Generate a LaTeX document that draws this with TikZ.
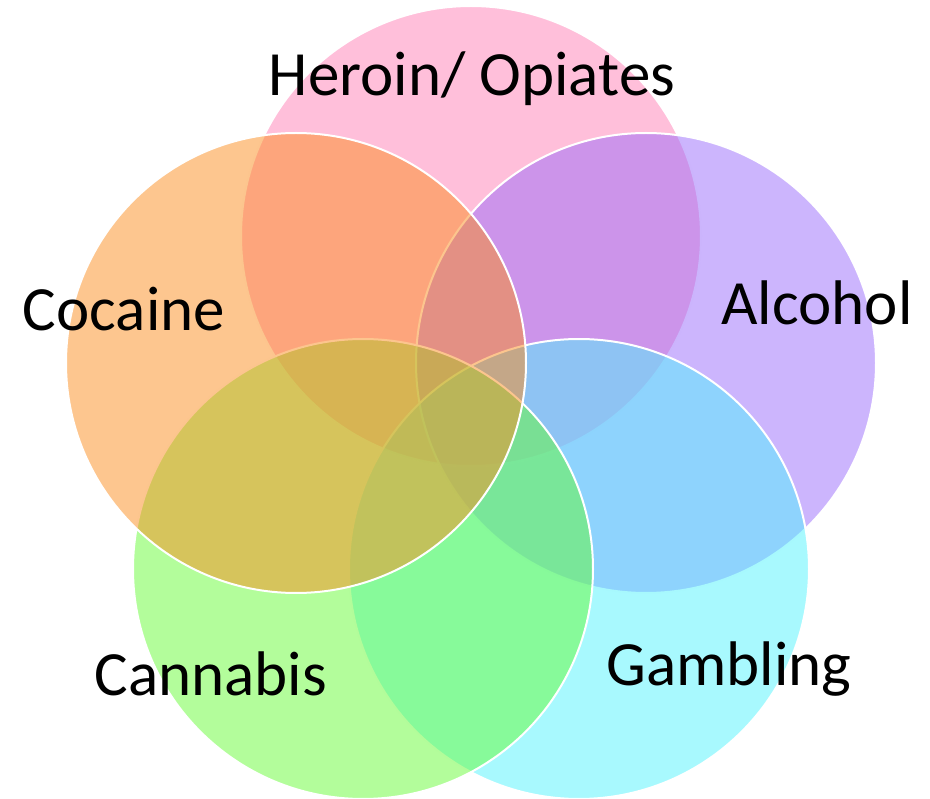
\documentclass[tikz,border=0pt]{standalone}
\usepackage{fontspec}
\setmainfont{Carlito}
\definecolor{cpink}{RGB}{255,127,181}
\definecolor{corange}{RGB}{251,141,31}
\definecolor{cpurple}{RGB}{153,107,251}
\definecolor{cgreen}{RGB}{103,251,55}
\definecolor{ccyan}{RGB}{81,243,253}
\tikzset{
  vset/.style={circle, inner sep=0pt, minimum size=460pt, draw=white, line width=2pt, fill opacity=0.5, fill=#1},
  vlabel/.style={anchor=base, inner sep=0pt, font=\fontsize{63}{70}\selectfont, text=black}
}
\begin{document}
\begin{tikzpicture}[x=1pt,y=-1pt]
\useasboundingbox (0,0) rectangle (930,799);
\node[vset=cpink]   (heroin)   at (471,236) {};
\node[vset=cpurple] (alcohol)  at (646,363) {};
\node[vset=ccyan]   (gambling) at (579,569) {};
\node[vset=cgreen]  (cannabis) at (363,569) {};
\node[vset=corange] (cocaine)  at (296,363) {};
\node[vlabel] (lheroin)   at (472,96)  {Heroin/ Opiates};
\node[vlabel] (lcocaine)  at (124,331) {Cocaine};
\node[vlabel] (lalcohol)  at (817,325) {Alcohol};
\node[vlabel] (lcannabis) at (211,695) {Cannabis};
\node[vlabel] (lgambling) at (729,685) {Gambling};
\end{tikzpicture}
\end{document}
